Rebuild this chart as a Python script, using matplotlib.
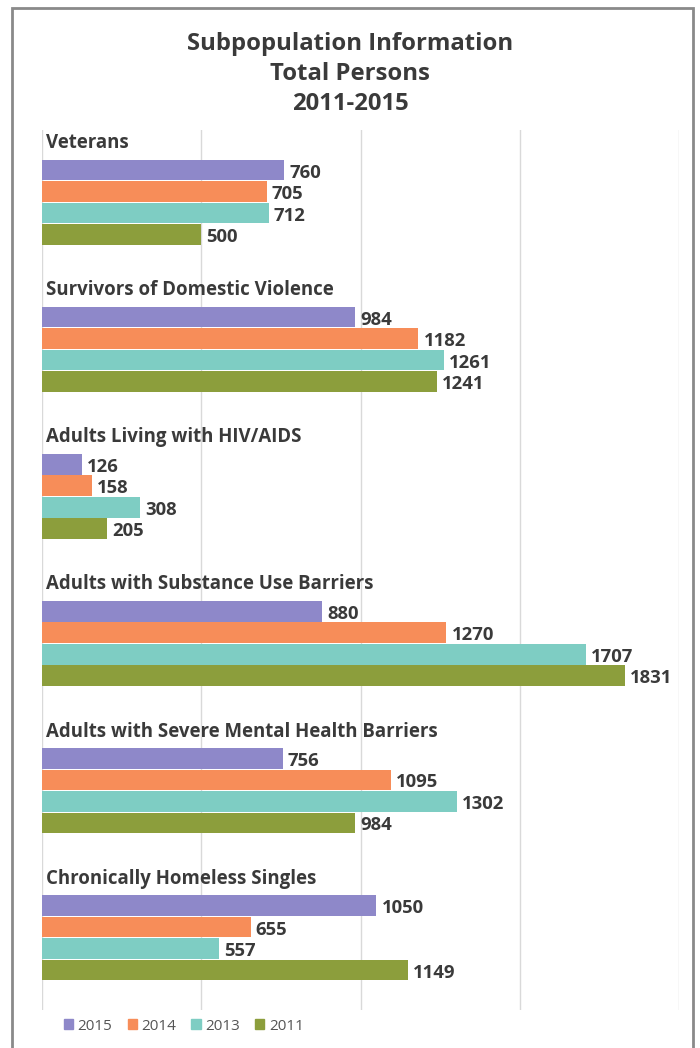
import matplotlib
matplotlib.use("Agg")
import matplotlib.pyplot as plt
from matplotlib.patches import Rectangle, Patch

categories = ["Veterans", "Survivors of Domestic Violence", "Adults Living with HIV/AIDS",
              "Adults with Substance Use Barriers", "Adults with Severe Mental Health Barriers",
              "Chronically Homeless Singles"]
years = ["2015", "2014", "2013", "2011"]
v2015 = [760, 984, 126, 880, 756, 1050]
v2014 = [705, 1182, 158, 1270, 1095, 655]
v2013 = [712, 1261, 308, 1707, 1302, 557]
v2011 = [500, 1241, 205, 1831, 984, 1149]
series = [v2015, v2014, v2013, v2011]
colors = ["#8E88C9", "#F78D59", "#7ECDC3", "#8C9E3C"]
x_ticks = [0, 500, 1000, 1500, 2000]

plt.rcParams['font.family'] = ['Open Sans', 'DejaVu Sans']
W, H = 700, 1048
fig = plt.figure(figsize=(W/100, H/100), dpi=100)

# border
fig.patches.append(Rectangle((12/W, -0.02), (693-12)/W, (H-8)/H + 0.02, transform=fig.transFigure,
                             fill=False, edgecolor="#8a8a8a", linewidth=2))

ax = fig.add_axes([42/W, 1 - 1010/H, (679-42)/W, (1010-130)/H])
group_pitch = 6.84
bh = 0.96
txt = "#3a3a3a"
for k, (vals, c) in enumerate(zip(series, colors)):
    ys = [g*group_pitch + k for g in range(len(categories))]
    ax.barh(ys, vals, height=bh, color=c, zorder=2)
    for y, v in zip(ys, vals):
        ax.text(v + 16, y + 0.12, str(v), va='center', ha='left', fontsize=13.3, fontweight='bold',
                color=txt, zorder=3)
for g, cat in enumerate(categories):
    ax.text(14, g*group_pitch - 1.25, cat, va='center', ha='left', fontsize=13.4,
            fontweight='bold', color=txt)

ax.set_xlim(0, 2000)
ax.set_ylim(5*group_pitch + 3 + 1.86, -1.86)
ax.set_xticks(x_ticks)
ax.set_yticks([])
ax.tick_params(axis='x', length=0, labelbottom=False)
ax.grid(axis='x', color="#d9d9d9", linewidth=1, zorder=0)
for s in ax.spines.values():
    s.set_visible(False)

for i, line in enumerate(["Subpopulation Information", "Total Persons", "2011-2015"]):
    fig.text(0.5, 1 - (44 + 30*i)/H, line, ha='center', va='center', fontsize=17.2,
             fontweight='bold', color=txt)

handles = [Patch(color=c, label=y) for c, y in zip(colors, years)]
fig.legend(handles=handles, loc='center left', bbox_to_anchor=(50/W, 1 - 1026/H), ncol=4,
           frameon=False, fontsize=11, handlelength=0.6, handleheight=0.6, handletextpad=0.3,
           columnspacing=1.0, labelcolor="#555555")

fig.savefig("out.png", dpi=100)
